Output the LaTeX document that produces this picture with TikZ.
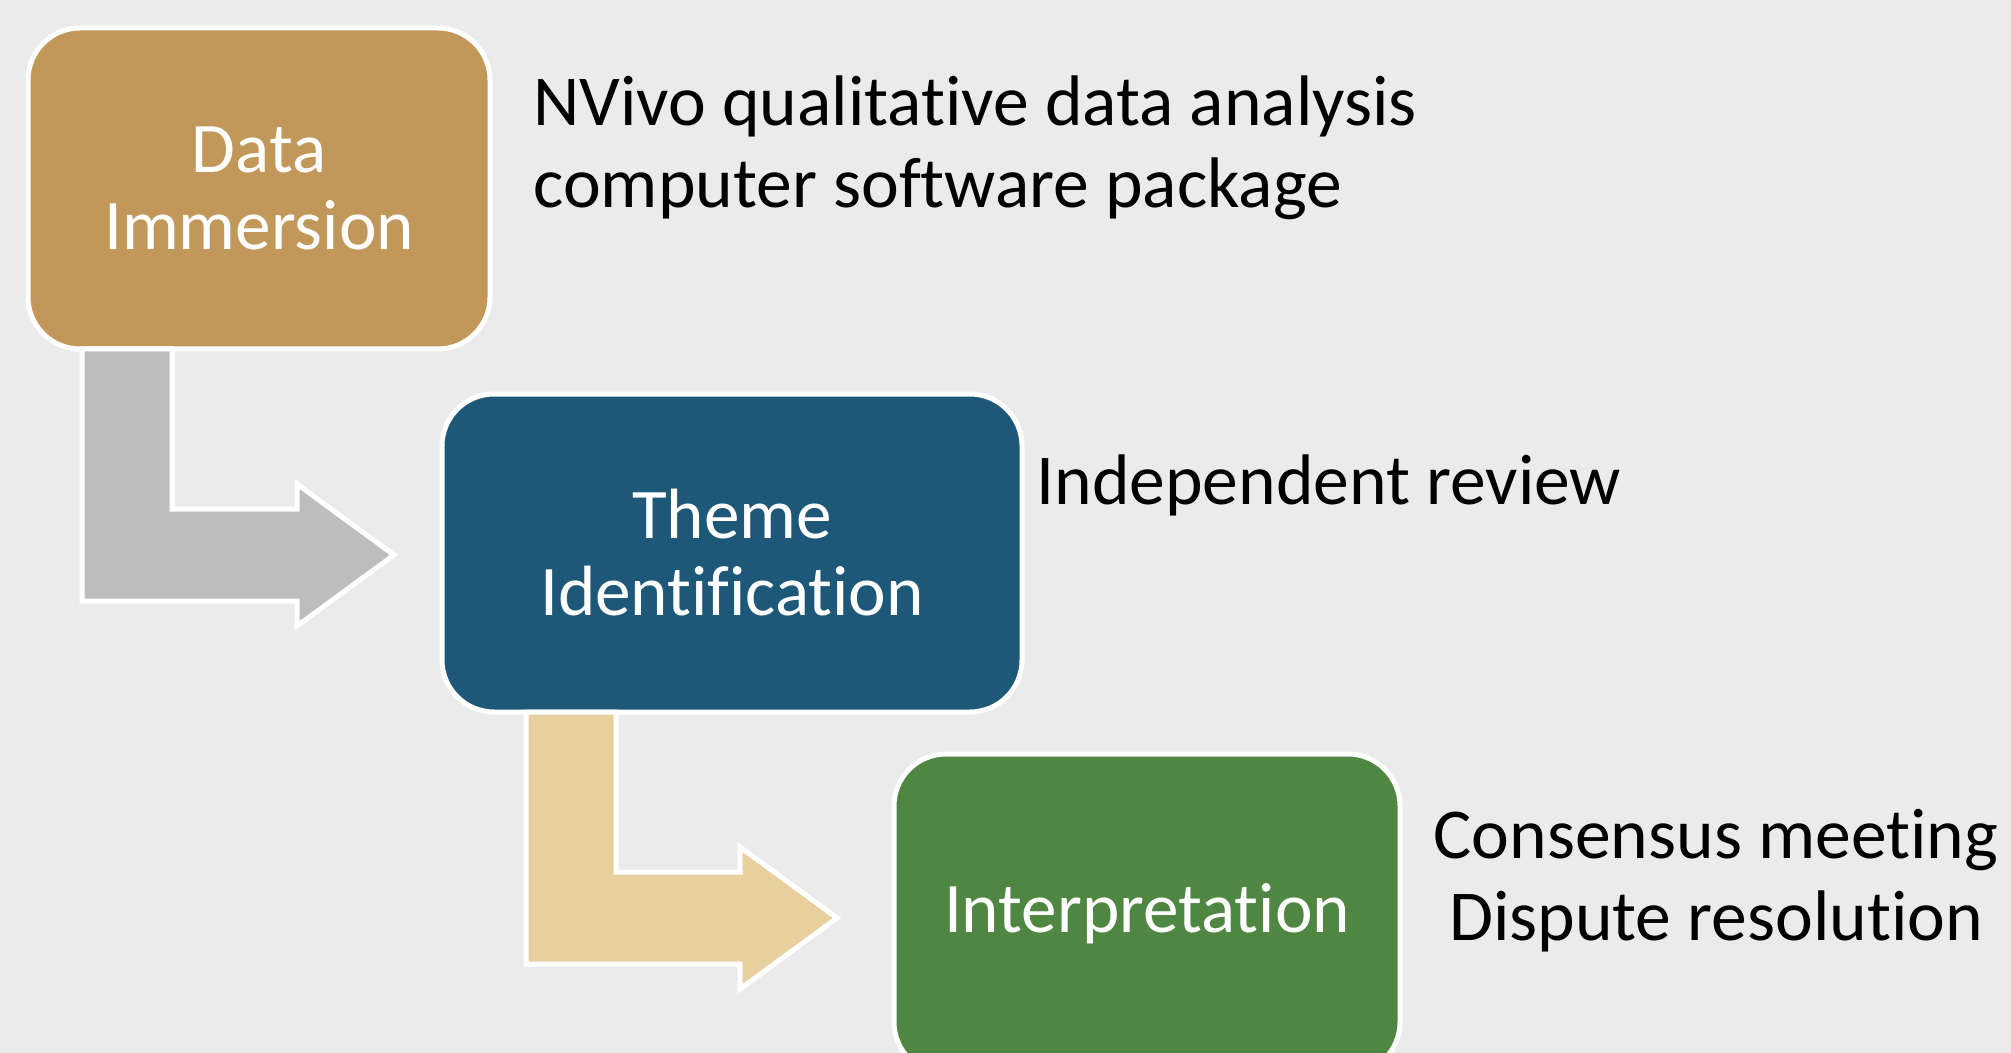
\documentclass[tikz,border=0pt]{standalone}
\usepackage{fontspec}
\setmainfont{Carlito}[Ligatures={NoCommon}]
\usetikzlibrary{positioning, calc}

\definecolor{bgGrey}{RGB}{235,235,235}
\definecolor{immGold}{RGB}{193,152,89}
\definecolor{themeBlue}{RGB}{30,88,120}
\definecolor{interpGreen}{RGB}{79,134,66}
\definecolor{arrowGrey}{RGB}{189,189,189}
\definecolor{arrowTan}{RGB}{232,207,158}

\begin{document}
\begin{tikzpicture}[
            x=0.5pt, y=-0.5pt,
            stage/.style={draw=white, line width=2.5pt, rectangle, rounded corners=26pt, outer sep=0pt, text=white, align=center, font=\fontsize{35.6}{38.5}\selectfont},
            note/.style={inner sep=0pt, font=\fontsize{35.8}{41}\selectfont},
            bent/.style={draw=white, line width=2.5pt}
        ]

        % Rahmen
        \clip (0,0) rectangle (2011,1053);
        \fill[bgGrey] (0,0) rectangle (2011,1053);

        % Stufen
        \node[stage, fill=immGold, minimum width=231pt, minimum height=160.5pt, anchor=north west] (imm) at (28,28) {Data\\Immersion};
        \node[stage, fill=themeBlue, minimum width=290pt, minimum height=159pt, below right=22.5pt and -24pt of imm] (theme) {Theme\\Identification};
        \node[stage, fill=interpGreen, minimum width=253pt, minimum height=160pt, below right=21pt and -64pt of theme] (interp) {Interpretation};

        % Pfeile
        \coordinate (s1) at ($(imm.south west)+(54,0)$);
        \coordinate (t1) at ($(theme.west)+(-48,2)$);
        \coordinate (s2) at ($(theme.south west)+(84,0)$);
        \coordinate (t2) at ($(interp.west)+(-57,4)$);
        \filldraw[bent, fill=arrowGrey] (s1) -- ++(90,0) |- ($(t1)+(-97,-46)$) -- ++(0,-25) -- (t1) -- ++(-97,71) -- ++(0,-25) -| (s1) -- cycle;
        \filldraw[bent, fill=arrowTan] (s2) -- ++(90,0) |- ($(t2)+(-97,-46)$) -- ++(0,-25) -- (t2) -- ++(-97,71) -- ++(0,-25) -| (s2) -- cycle;

        % Notizen
        \node[note, align=left, anchor=base west] (nvivo) at (533,208) {NVivo qualitative data analysis\\computer software package};
        \node[note, anchor=base west] (review) at (1036,504) {Independent review};
        \node[note, align=center, anchor=base] (consensus) at (1716,940) {Consensus meeting\\Dispute resolution};

    \end{tikzpicture}
\end{document}
